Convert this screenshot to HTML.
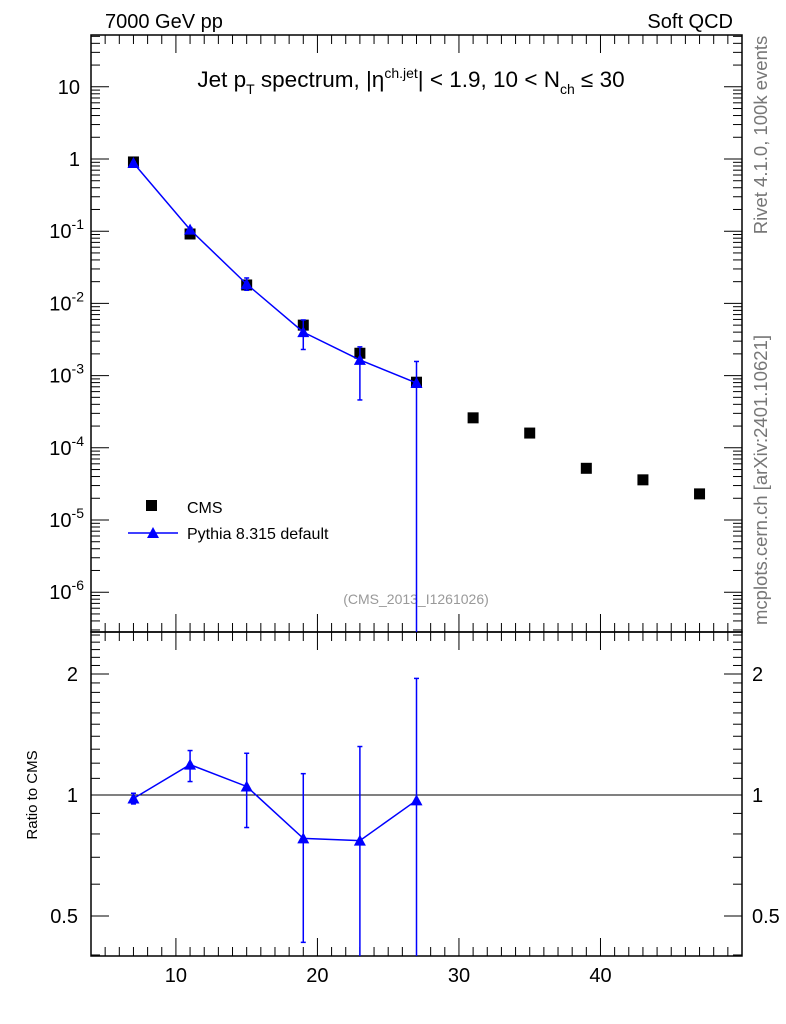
<!DOCTYPE html>
<html><head><meta charset="utf-8"><style>
body{margin:0;background:#fff;}
svg{display:block;font-family:"Liberation Sans",sans-serif;}
</style></head><body>
<svg id="c" width="786" height="1024" xmlns="http://www.w3.org/2000/svg">
<text x="105" y="28" font-size="20">7000 GeV pp</text>
<text x="733" y="28" font-size="20" text-anchor="end">Soft QCD</text>
<text x="411" y="87" font-size="22.5" text-anchor="middle">Jet p<tspan font-size="14" dy="7">T</tspan><tspan dy="-7"> spectrum, |η</tspan><tspan font-size="14" dy="-9">ch.jet</tspan><tspan dy="9">| &lt; 1.9, 10 &lt; N</tspan><tspan font-size="14" dy="7">ch</tspan><tspan dy="-7"> ≤ 30</tspan></text>
<text transform="translate(767,135) rotate(-90)" font-size="18.5" fill="#777" text-anchor="middle">Rivet 4.1.0,  100k events</text>
<text transform="translate(767,480) rotate(-90)" font-size="18.5" fill="#777" text-anchor="middle">mcplots.cern.ch [arXiv:2401.10621]</text>
<text x="416" y="604" font-size="14" fill="#999" text-anchor="middle">(CMS_2013_I1261026)</text>
<text transform="translate(37,795) rotate(-90)" font-size="15" text-anchor="middle">Ratio to CMS</text>
<g id="g"></g>
<rect x="146" y="500" width="11" height="11" fill="#000"/>
<text x="187" y="513" font-size="16">CMS</text>
<line x1="128" y1="533" x2="178" y2="533" stroke="#00f" stroke-width="1.5"/>
<polygon points="153,527 159,538 147,538" fill="#00f"/>
<text x="187" y="539" font-size="16">Pythia 8.315 default</text>
</svg>
<script>
const xs=[7,11,15,19,23,27,31,35,39,43,47];
const cms=[0.91,0.0915,0.018,0.0050,0.00204,0.00081,0.00026,0.00016,5.2e-5,3.6e-5,2.3e-5];
const px=[7,11,15,19,23,27];
const py=[0.88,0.105,0.0185,0.0040,0.00165,0.00079];
const pyLo=[0.84,0.098,0.0152,0.0023,0.00046,1e-9];
const pyHi=[0.92,0.112,0.0225,0.0059,0.0025,0.00157];
const ratio=[0.98,1.19,1.05,0.78,0.77,0.97];
const rLo=[0.95,1.08,0.83,0.43,0.1,0.1];
const rHi=[1.01,1.29,1.27,1.13,1.32,1.95];
const xTicks=[10,20,30,40];
const yTicks=[10,1,0.1,0.01,0.001,1e-4,1e-5,1e-6];
const yLabels=["10","1","10^-1","10^-2","10^-3","10^-4","10^-5","10^-6"];
const rTicks=[0.5,1,2];

const NS="http://www.w3.org/2000/svg",g=document.getElementById('g');
const L=91,R=742,T=35,M=632,B=956;
const X=v=>L+(v-4)/46*(R-L);
const Y=v=>159-Math.log10(v)*72.2;
const YR=v=>795-Math.log10(v)*402;
function el(t,a,name,p){const e=document.createElementNS(NS,t);for(const k in a)e.setAttribute(k,a[k]);


(p||g).appendChild(e);return e;}
el('rect',{x:L,y:T,width:R-L,height:M-T,fill:'none',stroke:'#000','stroke-width':1.5},'main-frame');
el('rect',{x:L,y:M,width:R-L,height:B-M,fill:'none',stroke:'#000','stroke-width':1.5},'ratio-frame');
for(let v=5;v<50;v++){const x=X(v);const len=v%10==0?18:9;
[[M,-1],[T,1],[B,-1],[M,1]].forEach(([y0,d])=>el('line',{x1:x,x2:x,y1:y0,y2:y0+d*len,stroke:'#000'},'x-tick'));}
xTicks.forEach(v=>{const t=el('text',{x:X(v),y:B+26,'font-size':20,'text-anchor':'middle'},'x-tick-label');t.textContent=v;});
for(let e=-7;e<=2;e++)for(let m=1;m<10;m++){const v=m*Math.pow(10,e);const y=Y(v);if(y<T||y>M)continue;const len=m==1?18:9;
el('line',{x1:L,x2:L+len,y1:y,y2:y,stroke:'#000'},'y-tick');el('line',{x1:R,x2:R-len,y1:y,y2:y,stroke:'#000'},'y-tick');}
yTicks.forEach((v,i)=>{const lab=yLabels[i];const t=el('text',{x:80,y:Y(v)+7,'font-size':20,'text-anchor':'end'},'y-tick-label');
if(lab.includes('^')){const [b,ex]=lab.split('^');t.textContent=b;const s=document.createElementNS(NS,'tspan');s.setAttribute('font-size',14);s.setAttribute('dy',-9);s.textContent=ex;t.appendChild(s);t.setAttribute('x',84);}else t.textContent=lab;});
[0.4,0.5,0.6,0.7,0.8,0.9,1,1.1,1.2,1.3,1.4,1.5,1.6,1.7,1.8,1.9,2,2.1,2.2,2.3,2.4,2.5].forEach(v=>{const y=YR(v);if(y<M||y>B)return;const len=rTicks.includes(v)?18:9;
el('line',{x1:L,x2:L+len,y1:y,y2:y,stroke:'#000'},'ratio-y-tick');el('line',{x1:R,x2:R-len,y1:y,y2:y,stroke:'#000'},'ratio-y-tick');});
rTicks.forEach(v=>{const t=el('text',{x:78,y:YR(v)+7,'font-size':20,'text-anchor':'end'},'ratio-y-tick-label');t.textContent=v;
const t2=el('text',{x:752,y:YR(v)+7,'font-size':20},'ratio-y-tick-label-right');t2.textContent=v;});
el('line',{x1:L,x2:R,y1:YR(1),y2:YR(1),stroke:'#000'},'ratio-unity-line');
xs.forEach((v,i)=>el('rect',{x:X(v)-5.5,y:Y(cms[i])-5.5,width:11,height:11,fill:'#000'},'cms-point'));
const cl=v=>Math.min(M,Math.max(T,v));
el('polyline',{points:px.map((v,i)=>X(v)+','+Y(py[i])).join(' '),fill:'none',stroke:'#00f','stroke-width':1.5},'pythia-line');
px.forEach((v,i)=>{const x=X(v),y1=cl(Y(pyHi[i])),y2=cl(Y(pyLo[i]));
el('line',{x1:x,x2:x,y1:y1,y2:y2,stroke:'#00f','stroke-width':1.5},'pythia-error-bar');
if(y1>T)el('line',{x1:x-2.5,x2:x+2.5,y1:y1,y2:y1,stroke:'#00f','stroke-width':1.5},'pythia-error-cap');
if(y2<M)el('line',{x1:x-2.5,x2:x+2.5,y1:y2,y2:y2,stroke:'#00f','stroke-width':1.5},'pythia-error-cap');
const y=Y(py[i]);el('polygon',{points:`${x},${y-6} ${x+6},${y+5} ${x-6},${y+5}`,fill:'#00f'},'pythia-point');});
const cr=v=>Math.min(B,Math.max(M,v));
el('polyline',{points:px.map((v,i)=>X(v)+','+YR(ratio[i])).join(' '),fill:'none',stroke:'#00f','stroke-width':1.5},'ratio-line');
px.forEach((v,i)=>{const x=X(v),y1=cr(YR(rHi[i])),y2=cr(YR(rLo[i]));
el('line',{x1:x,x2:x,y1:y1,y2:y2,stroke:'#00f','stroke-width':1.5},'ratio-error-bar');
el('line',{x1:x-2.5,x2:x+2.5,y1:y1,y2:y1,stroke:'#00f','stroke-width':1.5},'ratio-error-cap');
if(y2<B)el('line',{x1:x-2.5,x2:x+2.5,y1:y2,y2:y2,stroke:'#00f','stroke-width':1.5},'ratio-error-cap');
const y=YR(ratio[i]);el('polygon',{points:`${x},${y-6} ${x+6},${y+5} ${x-6},${y+5}`,fill:'#00f'},'ratio-point');});
</script>
</body></html>
